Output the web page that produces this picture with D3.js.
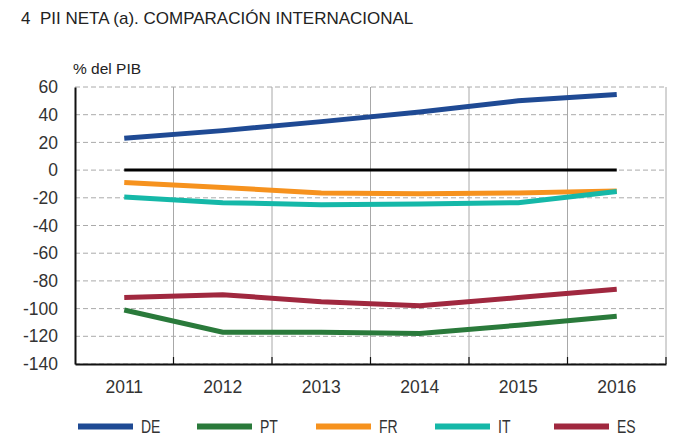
<!DOCTYPE html>
<html><head><meta charset="utf-8">
<script src="https://cdn.jsdelivr.net/npm/d3@7"></script>
<style>body{margin:0;background:#fff}svg{display:block}text{font-family:"Liberation Sans",Arial,sans-serif;fill:#333}</style>
</head><body>
<svg id="c" width="677" height="446"></svg>
<script>
const years = ["2011","2012","2013","2014","2015","2016"];
const yTicks = [60,40,20,0,-20,-40,-60,-80,-100,-120,-140];
const DE = [23, 28.5, 35, 42, 50, 54.5];
const PT = [-101, -117, -117, -118, -112, -105.5];
const FR = [-9, -12.5, -16.5, -17, -16.5, -15];
const IT = [-19.5, -23.5, -25, -24.5, -23.5, -15.5];
const ES = [-92, -90, -95, -98, -92, -86];
const seriesNames = ["DE","PT","FR","IT","ES"];
const seriesValues = [DE, PT, FR, IT, ES];
const colors = ["#1f4a94","#2a7a3b","#f6921e","#15b8a8","#a0283f"];

const svg = d3.select("#c");
const m = {l:75, r:666, t:87, b:364};
const x = d3.scaleBand().domain(years).range([m.l, m.r]);
const y = d3.scaleLinear().domain([-140,60]).range([m.b, m.t]);

// title
svg.append("text").attr("x",21).attr("y",24).style("font-size","17px").style("fill","#222")
  .style("white-space","pre").text("4  PII NETA (a). COMPARACIÓN INTERNACIONAL");
svg.append("text").attr("x",73).attr("y",74).style("font-size","15.5px").style("fill","#222").text("% del PIB");

// horizontal dashed grid
svg.append("g").selectAll("line").data(yTicks).join("line")
  .attr("x1",m.l).attr("x2",m.r).attr("y1",d=>y(d)).attr("y2",d=>y(d))
  .attr("stroke","#aaa").attr("stroke-width",1).attr("stroke-dasharray","5,3");
// vertical grid
const bounds = years.map(d=>x(d)).concat([m.r]).slice(1);
svg.append("g").selectAll("line").data(bounds).join("line")
  .attr("x1",d=>d).attr("x2",d=>d).attr("y1",m.t).attr("y2",m.b)
  .attr("stroke","#a8a8a8").attr("stroke-width",1);

// y axis
const ya = d3.axisLeft(y).tickValues(yTicks).tickSize(0).tickPadding(17).tickFormat(d=>String(d));
const gy = svg.append("g").attr("transform",`translate(${m.l},0)`).call(ya);
gy.select(".domain").attr("stroke","#111").attr("stroke-width",2);
gy.selectAll("text").style("font-size","17.5px").style("fill","#333").style("font-family","Liberation Sans, Arial");

// x axis
const xa = d3.axisBottom(x).tickSize(0).tickPadding(17);
const gx = svg.append("g").attr("transform",`translate(0,${m.b})`).call(xa);
gx.select(".domain").attr("stroke","#111").attr("stroke-width",2);
gx.selectAll("text").style("font-size","17.5px").style("fill","#333").style("font-family","Liberation Sans, Arial");
svg.append("g").selectAll("line").data(bounds).join("line")
  .attr("x1",d=>d).attr("x2",d=>d).attr("y1",m.b-7).attr("y2",m.b)
  .attr("stroke","#111").attr("stroke-width",1.2);

// zero line
svg.append("line").attr("x1",x(years[0])+x.bandwidth()/2).attr("x2",x(years[5])+x.bandwidth()/2)
  .attr("y1",y(0)).attr("y2",y(0)).attr("stroke","#000").attr("stroke-width",3);

const line = d3.line().x((d,i)=>x(years[i])+x.bandwidth()/2).y(d=>y(d));
seriesValues.forEach((vals,i)=>{
  svg.append("path").attr("d",line(vals)).attr("fill","none")
    .attr("stroke",colors[i]).attr("stroke-width",5);
});

// legend
const lg = svg.append("g").attr("transform","translate(78,426.5)");
seriesNames.forEach((n,i)=>{
  const g = lg.append("g").attr("transform",`translate(${i*119},0)`);
  g.append("line").attr("x1",0).attr("x2",55).attr("y1",0).attr("y2",0)
    .attr("stroke",colors[i]).attr("stroke-width",6);
  g.append("text").attr("transform","translate(63,6.5) scale(0.8,1)").style("font-size","17.5px")
    .style("fill","#333").text(n);
});
</script>
</body></html>
